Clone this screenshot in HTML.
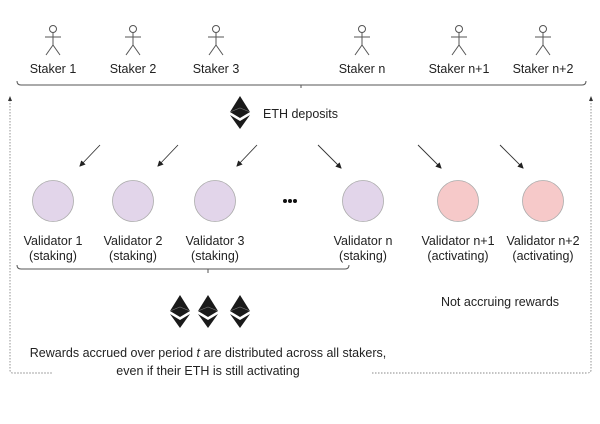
<!DOCTYPE html>
<html><head><style>
html,body{margin:0;padding:0;background:#fff;}
svg{display:block;font-family:"Liberation Sans",Arial,sans-serif;}
</style></head><body>
<svg width="600" height="424" viewBox="0 0 600 424" xmlns="http://www.w3.org/2000/svg">
<defs>
<marker id="ah" markerWidth="6" markerHeight="6" refX="5" refY="3" orient="auto" markerUnits="userSpaceOnUse">
<path d="M0,0 L6,3 L0,6 z" fill="#222"/></marker>
<g id="stk" stroke="#555" stroke-width="1" fill="none">
<circle cx="0" cy="-17" r="3.5"/><line x1="0" y1="-13.5" x2="0" y2="-1"/>
<line x1="-8" y1="-9" x2="8" y2="-9"/><line x1="0" y1="-1" x2="-7" y2="9"/><line x1="0" y1="-1" x2="7" y2="9"/>
</g>
<g id="eth">
<path d="M0,-16 L-10,0 L0,6 L10,0 z" fill="#1a1a1a"/>
<path d="M-10,3 L0,9 L10,3 L0,17 z" fill="#1a1a1a"/>
<path d="M-10,0 L0,-4 L10,0" stroke="#777" stroke-width="0.6" fill="none"/>
</g>
</defs>
<g font-size="12.5" fill="#222" text-anchor="middle">
<use href="#stk" x="53" y="46"/><text x="53" y="73">Staker 1</text>
<use href="#stk" x="133" y="46"/><text x="133" y="73">Staker 2</text>
<use href="#stk" x="216" y="46"/><text x="216" y="73">Staker 3</text>
<use href="#stk" x="362" y="46"/><text x="362" y="73">Staker n</text>
<use href="#stk" x="459" y="46"/><text x="459" y="73">Staker n+1</text>
<use href="#stk" x="543" y="46"/><text x="543" y="73">Staker n+2</text>
</g>
<path d="M17,81 Q17,85 21,85 L582,85 Q586,85 586,81" stroke="#555" fill="none"/>
<line x1="301" y1="85" x2="301" y2="88" stroke="#555"/>
<use href="#eth" x="240" y="112"/>
<text x="263" y="118" font-size="12.5" fill="#222">ETH deposits</text>
<g stroke="#333" stroke-width="0.9" marker-end="url(#ah)">
<line x1="100" y1="145" x2="80" y2="166"/>
<line x1="178" y1="145" x2="158" y2="166"/>
<line x1="257" y1="145" x2="237" y2="166"/>
<line x1="318" y1="145" x2="341" y2="168"/>
<line x1="418" y1="145" x2="441" y2="168"/>
<line x1="500" y1="145" x2="523" y2="168"/>
</g>
<g stroke="#aaa" stroke-width="0.8">
<circle cx="53" cy="201" r="20.5" fill="#e2d5ea"/>
<circle cx="133" cy="201" r="20.5" fill="#e2d5ea"/>
<circle cx="215" cy="201" r="20.5" fill="#e2d5ea"/>
<circle cx="363" cy="201" r="20.5" fill="#e2d5ea"/>
<circle cx="458" cy="201" r="20.5" fill="#f6c9c9"/>
<circle cx="543" cy="201" r="20.5" fill="#f6c9c9"/>
</g>
<g fill="#111"><circle cx="285" cy="201" r="2"/><circle cx="290" cy="201" r="2"/><circle cx="295" cy="201" r="2"/></g>
<g font-size="12.5" fill="#222" text-anchor="middle">
<text x="53" y="245">Validator 1</text><text x="53" y="260">(staking)</text>
<text x="133" y="245">Validator 2</text><text x="133" y="260">(staking)</text>
<text x="215" y="245">Validator 3</text><text x="215" y="260">(staking)</text>
<text x="363" y="245">Validator n</text><text x="363" y="260">(staking)</text>
<text x="458" y="245">Validator n+1</text><text x="458" y="260">(activating)</text>
<text x="543" y="245">Validator n+2</text><text x="543" y="260">(activating)</text>
</g>
<path d="M17,265 Q17,269 21,269 L345,269 Q349,269 349,265" stroke="#555" fill="none"/>
<line x1="208" y1="269" x2="208" y2="273" stroke="#555"/>
<use href="#eth" x="180" y="311"/><use href="#eth" x="208" y="311"/><use href="#eth" x="240" y="311"/>
<text x="500" y="306" font-size="12.5" fill="#222" text-anchor="middle">Not accruing rewards</text>
<g font-size="12.5" fill="#222" text-anchor="middle">
<text x="208" y="357">Rewards accrued over period <tspan font-style="italic">t</tspan> are distributed across all stakers,</text>
<text x="208" y="375">even if their ETH is still activating</text>
</g>
<g stroke="#888" stroke-width="0.9" stroke-dasharray="1.5,1.5" fill="none">
<path d="M10,100 L10,370 Q10,373 13,373 L52,373"/>
<path d="M372,373 L587,373 Q591,373 591,370 L591,100"/>
</g>
<path d="M10,96 L8,101 L12,101 z M591,96 L589,101 L593,101 z" fill="#333"/>
</svg>
</body></html>
